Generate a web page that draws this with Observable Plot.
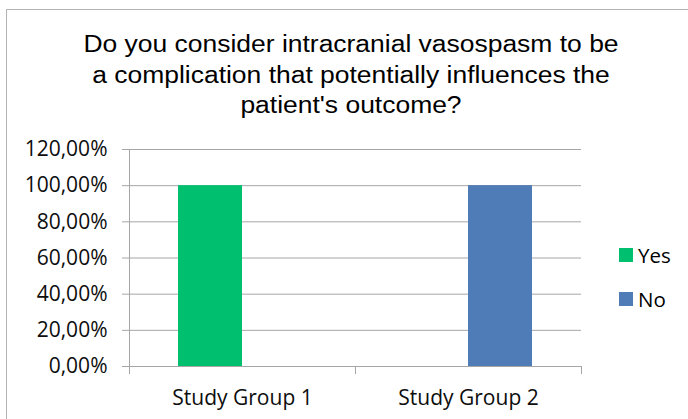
<!DOCTYPE html>
<html>
<head>
<meta charset="utf-8">
<script src="https://cdn.jsdelivr.net/npm/d3@7"></script>
<script src="https://cdn.jsdelivr.net/npm/@observablehq/plot@0.6"></script>
<style>
  html, body { margin: 0; padding: 0; background: #fff; }
  #wrap { position: relative; width: 688px; height: 419px; overflow: hidden; background: #fff; }
  #border { position: absolute; left: 6px; top: 9px; width: 740px; height: 520px; border: 1px solid #b4b4b4; box-sizing: border-box; }
  #title { position: absolute; left: 0; top: 29px; width: 688px; padding-left: 14px; box-sizing: border-box;
           text-align: center; font-family: "Liberation Sans", Arial, sans-serif; font-size: 23px; line-height: 30.5px;
           color: #000; transform: scaleX(1.15); transform-origin: 351px 0; }
  #chart { position: absolute; left: 0; top: 130px; }
  #legend { position: absolute; left: 619px; top: 0; font-family: "Open Sans", sans-serif; font-size: 20.5px; color: #000; }
  .li { position: absolute; left: 0; white-space: nowrap; display: flex; align-items: center; }
  .sw { width: 14px; height: 14px; margin-right: 5px; }
</style>
</head>
<body>
<div id="wrap">
  <div id="border"></div>
  <div id="title">Do you consider intracranial vasospasm to be<br>a complication that potentially influences the<br>patient's outcome?</div>
  <div id="chart"></div>
  <div id="legend"></div>
</div>
<script>
// ---- data ----
const groups = ["Study Group 1", "Study Group 2"];
const series = ["Yes", "No"];
const yesValues = [1.00, 0.00];
const noValues = [0.00, 1.00];
const colors = ["#00bf6f", "#4f7bb6"];
const yTicks = [0, 0.2, 0.4, 0.6, 0.8, 1.0, 1.2];

// ---- layout ----
const W = 688, H = 289;
const mL = 129, mR = 107, mT = 19, mB = 53;
const step = (W - mL - mR) / groups.length;
const barW = 64, outer = (step - barW * series.length) / 2;
const gridColor = "#a6a6a6";

const table = [];
groups.forEach((g, i) => {
  table.push({group: g, series: "Yes", value: yesValues[i]});
  table.push({group: g, series: "No", value: noValues[i]});
});

const barMarks = series.map((s, j) => Plot.barY(table.filter(d => d.series === s), {
  x: "group", y: "value", fill: colors[j],
  insetLeft: outer + j * barW,
  insetRight: step - outer - (j + 1) * barW
}));

const fmt = d => (d * 100).toFixed(2).replace(".", ",") + "%";

const plot = Plot.plot({
  width: W, height: H,
  marginLeft: mL, marginRight: mR, marginTop: mT, marginBottom: mB,
  style: {fontFamily: "'Open Sans', sans-serif", fontSize: "21px", color: gridColor, background: "transparent", overflow: "visible"},
  x: {domain: groups, padding: 0, tickSize: 0, tickPadding: 24, label: null},
  y: {domain: [0, 1.2], ticks: yTicks, tickFormat: fmt, tickSize: 7, tickPadding: 15, label: null, line: true},
  marks: [
    Plot.ruleY(yTicks, {stroke: gridColor, strokeWidth: 1}),
    ...barMarks
  ]
});

// text in black, lines in grey
plot.querySelectorAll("text").forEach(t => t.setAttribute("fill", "#0d0d0d"));

// category boundary ticks below the x axis
const xs = plot.scale("x");
const r0 = Math.min(...xs.range);
const st = xs.step || (Math.max(...xs.range) - r0) / groups.length;
const ys = plot.scale("y");
const y0 = Math.max(...ys.range);
const svg = d3.select(plot.tagName.toLowerCase() === "svg" ? plot : plot.querySelector("svg"));
for (let i = 0; i <= groups.length; i++) {
  const x = r0 + i * st;
  svg.append("line").attr("x1", x).attr("x2", x).attr("y1", y0).attr("y2", y0 + 8)
    .attr("stroke", gridColor).attr("shape-rendering", "crispEdges");
}

document.getElementById("chart").appendChild(plot);

// legend
const legend = document.getElementById("legend");
const legendTops = [241, 285];
series.forEach((s, j) => {
  const el = document.createElement("div");
  el.className = "li";
  el.style.top = legendTops[j] + "px";
  el.innerHTML = `<span class="sw" style="background:${colors[j]}"></span><span>${s}</span>`;
  legend.appendChild(el);
});
</script>
</body>
</html>
